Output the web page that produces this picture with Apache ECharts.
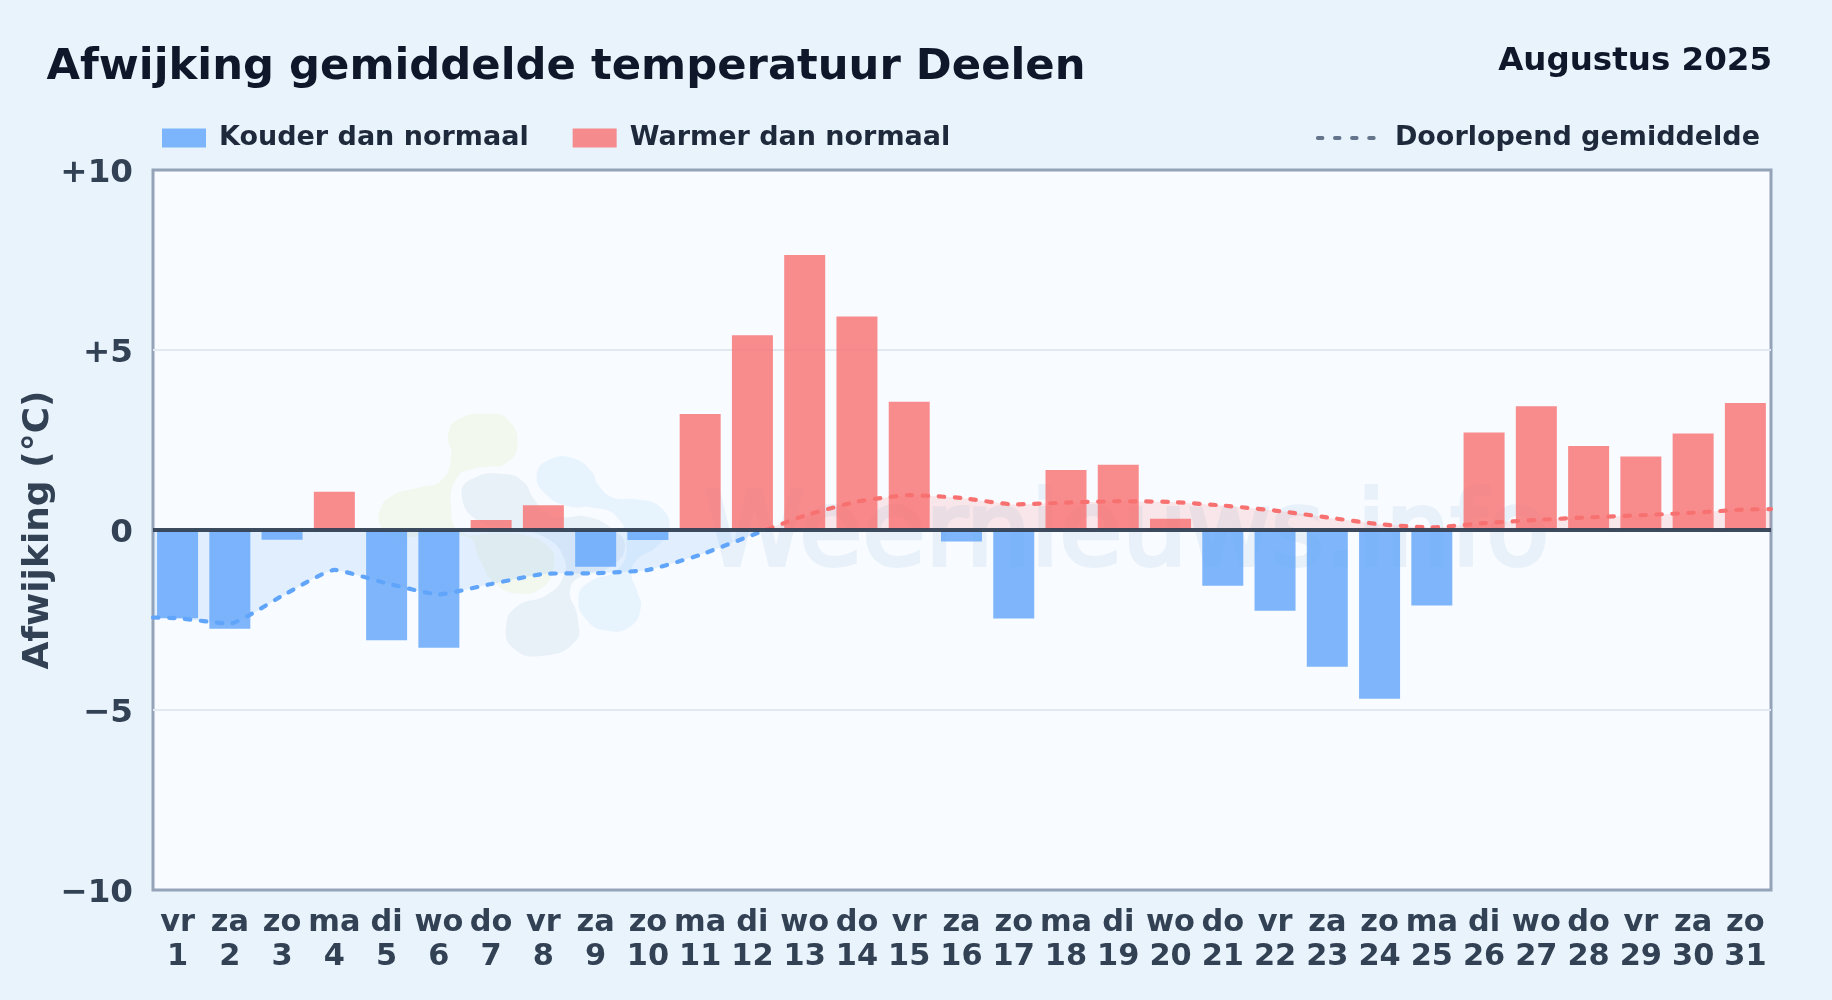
<!DOCTYPE html>
<html>
<head>
<meta charset="utf-8">
<style>html,body{margin:0;padding:0;background:#e8f3fc}#c{width:1832px;height:1000px}</style>
<script src="https://cdn.jsdelivr.net/npm/echarts@6/dist/echarts.min.js"></script>
</head>
<body>
<div id="c"></div>
<script>
const days = [1,2,3,4,5,6,7,8,9,10,11,12,13,14,15,16,17,18,19,20,21,22,23,24,25,26,27,28,29,30,31];
const weekdays = ['vr','za','zo','ma','di','wo','do','vr','za','zo','ma','di','wo','do','vr','za','zo','ma','di','wo','do','vr','za','zo','ma','di','wo','do','vr','za','zo'];
const deviation = [-2.45,-2.74,-0.27,1.06,-3.06,-3.27,0.28,0.69,-1.02,-0.28,3.22,5.41,7.64,5.93,3.56,-0.32,-2.46,1.67,1.81,0.31,-1.55,-2.24,-3.8,-4.69,-2.1,2.71,3.44,2.33,2.04,2.68,3.53];
const runningX = [0.53,1,2,3,4,5,6,7,8,9,10,11,12,13,14,15,16,17,18,19,20,21,22,23,24,25,26,27,28,29,30,31,31.49];
const runningMean = [-2.43,-2.45,-2.6,-1.83,-1.11,-1.48,-1.79,-1.5,-1.22,-1.2,-1.11,-0.69,-0.14,0.4,0.79,0.97,0.89,0.71,0.76,0.8,0.78,0.68,0.54,0.35,0.16,0.07,0.19,0.28,0.35,0.41,0.48,0.57,0.58];
const yTicks = [-10,-5,0,5,10];
const yTickLabels = ['−10','−5','0','+5','+10'];
const titleText = 'Afwijking gemiddelde temperatuur Deelen';
const periodText = 'Augustus 2025';
const yName = 'Afwijking (°C)';
const coldName = 'Kouder dan normaal';
const warmName = 'Warmer dan normaal';
const meanName = 'Doorlopend gemiddelde';
const watermark = 'Weernieuws.info';

const FONT = '"DejaVu Sans"';
const coldData = days.filter((d,i)=>deviation[i]<0).map(d=>[d,deviation[d-1]]);
const warmData = days.filter((d,i)=>deviation[i]>=0).map(d=>[d,deviation[d-1]]);
const blobs = [
 {fill:'#f3f8ef',pts:[[262,232],[310,207],[360,200],[405,192],[443,135],[410,55],[350,42],[270,55],[235,100],[243,170],[215,240],[150,262],[70,285],[30,330],[35,385],[70,410],[290,410],[330,480],[370,545],[440,580],[520,560],[552,490],[535,440],[460,405],[380,400],[272,395],[243,320]]},
 {fill:'#e8f0f8',pts:[[275,280],[310,235],[400,222],[460,245],[490,295],[530,340],[580,352],[650,350],[725,385],[765,440],[720,500],[640,525],[600,570],[622,650],[615,725],[510,768],[430,745],[408,680],[440,620],[530,585],[580,530],[580,470],[530,415],[430,385],[320,360]]},
 {fill:'#e8f4fd',pts:[[500,225],[540,178],[610,175],[665,215],[685,255],[730,293],[800,298],[870,320],[898,385],[860,440],[800,480],[785,525],[800,570],[812,625],[780,680],[710,692],[650,660],[625,590],[660,545],[740,510],[770,440],[740,350],[660,322],[600,320],[530,285]]}
];

const chart = echarts.init(document.getElementById('c'), null, {renderer:'canvas'});
chart.setOption({
  animation:false,
  backgroundColor:'#e8f3fc',
  textStyle:{fontFamily:FONT},
  title:[
    {text:titleText,left:41.5,top:41,textStyle:{fontFamily:FONT,fontSize:43.3,fontWeight:'bold',color:'#0f172a'}},
    {text:periodText,right:55,top:40,textStyle:{fontFamily:FONT,fontSize:32.5,fontWeight:'bold',color:'#0f172a'}}
  ],
  legend:[
    {data:[coldName,warmName],left:157,top:119.5,itemWidth:44,itemHeight:19,itemGap:44,selectedMode:false,icon:'rect',
     textStyle:{fontFamily:FONT,fontSize:27,fontWeight:'bold',color:'#1e293b',padding:[0,0,0,8]}},
    {data:[meanName],right:67,top:119.5,itemWidth:56,itemHeight:19,selectedMode:false,itemGap:10,
     itemStyle:{opacity:0,borderWidth:0},
     lineStyle:{color:'#64748b',width:4,type:[4.5,12.6],opacity:1},
     textStyle:{fontFamily:FONT,fontSize:27,fontWeight:'bold',color:'#1e293b',padding:[0,0,0,16]}}
  ],
  grid:{left:153,top:170,width:1618,height:720,show:true,backgroundColor:'#f8fbff',borderColor:'#94a3b8',borderWidth:3,containLabel:false},
  xAxis:{type:'value',min:0.53,max:31.49,
    axisLine:{show:false},axisTick:{show:false},splitLine:{show:false},
    axisLabel:{customValues:days,margin:16,fontFamily:FONT,fontSize:30.4,fontWeight:'bold',color:'#334155',lineHeight:34,hideOverlap:false,
      formatter:v=>weekdays[v-1]+'\n'+v}},
  yAxis:{type:'value',min:-10,max:10,interval:5,
    name:yName,nameLocation:'middle',nameGap:96,nameRotate:90,nameMoveOverlap:false,
    nameTextStyle:{fontFamily:FONT,fontSize:36,fontWeight:'bold',color:'#334155'},
    axisLine:{show:false},axisTick:{show:false},
    splitLine:{showMinLine:false,showMaxLine:false,lineStyle:{color:'#e2e8f0',width:2}},
    axisLabel:{margin:20,verticalAlign:'top',lineHeight:7,fontFamily:FONT,fontSize:32.6,fontWeight:'bold',color:'#334155',
      formatter:v=>yTickLabels[yTicks.indexOf(v)]}},
  graphic:{elements:[
    {type:'text',z:1,silent:true,x:704,y:487,style:{text:watermark,fontFamily:FONT,fontSize:102.5,fontWeight:'normal',fill:'#e8f1f9',stroke:'#e8f1f9',lineWidth:4}},
    ...blobs.map(b=>({type:'polygon',z:1,silent:true,x:370,y:400,scaleX:1/3,scaleY:1/3,shape:{points:b.pts,smooth:0.5},style:{fill:b.fill}}))
  ]},
  visualMap:{show:false,type:'piecewise',seriesIndex:2,dimension:1,
    pieces:[{gte:-20,lt:0,color:'#60a5fa'},{gte:0,lte:20,color:'#f87171'}]},
  series:[
    {name:coldName,type:'bar',data:coldData,barWidth:41,barGap:'-100%',itemStyle:{color:'#60a5fa',opacity:0.8},z:3},
    {name:warmName,type:'bar',data:warmData,barWidth:41,barGap:'-100%',itemStyle:{color:'#f87171',opacity:0.8},z:3},
    {name:meanName,type:'line',data:runningX.map((x,i)=>[x,runningMean[i]]),smooth:0.15,showSymbol:false,symbol:'none',z:4,
     color:'#64748b',
     lineStyle:{width:4.2,type:[5.5,10.5],cap:'round'},
     areaStyle:{opacity:0.15},
     markLine:{silent:true,symbol:'none',label:{show:false},data:[{yAxis:0}],lineStyle:{color:'#334155',width:4,type:'solid',opacity:0.95}}}
  ]
});
</script>
</body>
</html>
